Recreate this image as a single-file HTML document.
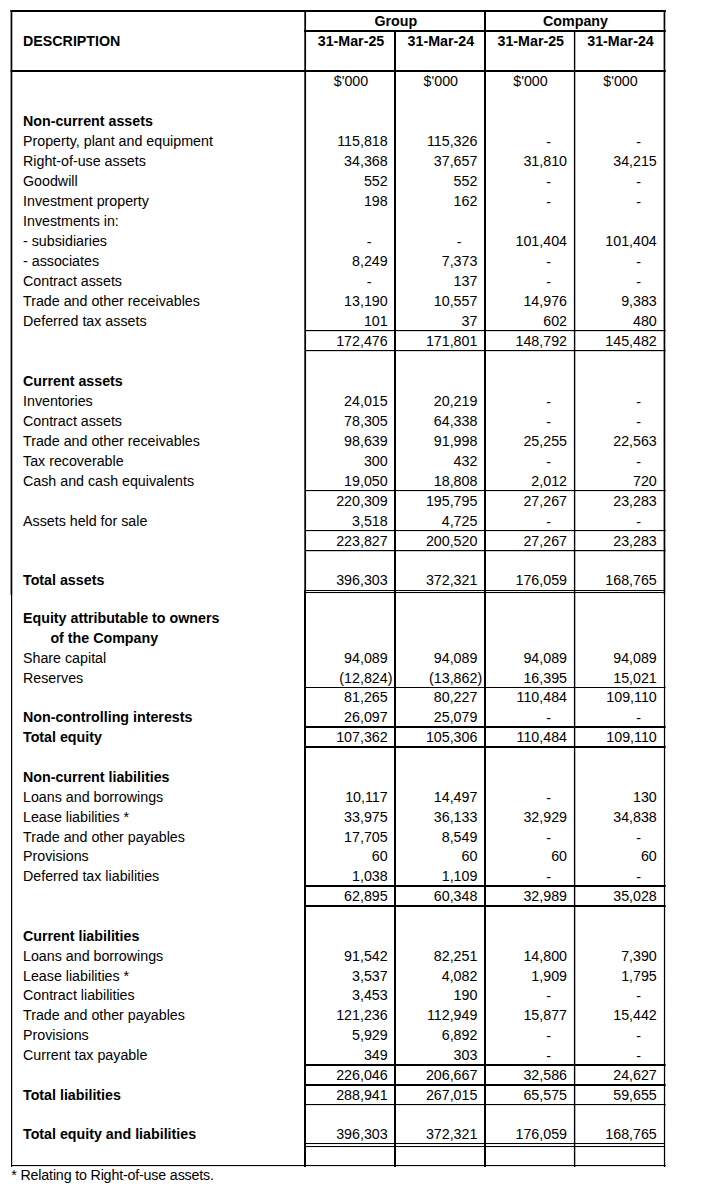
<!DOCTYPE html>
<html><head><meta charset="utf-8"><title>Statement of financial position</title>
<style>
html,body{margin:0;padding:0;background:#fff;}
body{width:720px;height:1190px;position:relative;overflow:hidden;font-family:"Liberation Sans",sans-serif;font-size:14.25px;color:#000;}
.t{position:absolute;white-space:nowrap;height:20px;line-height:20px;}
.b{font-weight:bold;font-size:14.25px;}
.r{text-align:right;}
.c{text-align:center;}
.l{position:absolute;background:#000;}
</style></head><body>

<svg width="720" height="1190" style="position:absolute;left:0;top:0" fill="#000"><rect x="10.6" y="10" width="1.7" height="585"/><rect x="11" y="595" width="1.2" height="572"/><rect x="304.3" y="10" width="1.75" height="580"/><rect x="304" y="590" width="2" height="577"/><rect x="394" y="30" width="2" height="1137"/><rect x="484" y="10" width="2" height="1157"/><rect x="573.9" y="30" width="1.4" height="1137"/><rect x="663.6" y="10" width="1.7" height="584"/><rect x="663.9" y="594" width="1.25" height="573"/><rect x="10.4" y="10" width="655.4" height="2"/><rect x="304" y="30" width="361.8" height="2"/><rect x="10.6" y="70" width="655.2" height="2"/><rect x="11" y="1165" width="654.8" height="1.1"/><rect x="305" y="330" width="360.6" height="1.15"/><rect x="305" y="350" width="360.6" height="1.15"/><rect x="305" y="490" width="360.6" height="1.1"/><rect x="305" y="530" width="360.6" height="1.1"/><rect x="305" y="550" width="360.6" height="1.2"/><rect x="305" y="590" width="360.0" height="1.05"/><rect x="305" y="592" width="360.0" height="1.05"/><rect x="305" y="687" width="360.6" height="1"/><rect x="305" y="726" width="360.6" height="2"/><rect x="305" y="746" width="360.6" height="2"/><rect x="305" y="885" width="360.6" height="2"/><rect x="305" y="905" width="360.6" height="2"/><rect x="305" y="1064" width="360.6" height="2"/><rect x="305" y="1084" width="360.6" height="2"/><rect x="305" y="1104" width="360.6" height="1.1"/><rect x="305" y="1143" width="360.0" height="1.05"/><rect x="305" y="1146" width="360.0" height="1.05"/></svg>
<div class="t b c" style="left:305.8px;top:11.0px;width:180px;">Group</div>
<div class="t b c" style="left:486px;top:11.0px;width:179px;">Company</div>
<div class="t b" style="left:23px;top:31.0px;width:200px;">DESCRIPTION</div>
<div class="t b c" style="left:306px;top:31.0px;width:90px;">31-Mar-25</div>
<div class="t b c" style="left:395.9px;top:31.0px;width:90px;">31-Mar-24</div>
<div class="t b c" style="left:485.79999999999995px;top:31.0px;width:90px;">31-Mar-25</div>
<div class="t b c" style="left:575.5px;top:31.0px;width:90px;">31-Mar-24</div>
<div class="t c" style="left:306px;top:71.0px;width:90px;">$'000</div>
<div class="t c" style="left:395.8px;top:71.0px;width:90px;">$'000</div>
<div class="t c" style="left:485.5px;top:71.0px;width:90px;">$'000</div>
<div class="t c" style="left:575.5px;top:71.0px;width:90px;">$'000</div>
<div class="t b" style="left:23.0px;top:111.0px;width:280px;">Non-current assets</div>
<div class="t " style="left:23.0px;top:131.0px;width:280px;">Property, plant and equipment</div>
<div class="t r" style="left:307.7px;top:131.0px;width:80px;">115,818</div>
<div class="t r" style="left:397.4px;top:131.0px;width:80px;">115,326</div>
<div class="t c" style="left:538.7px;top:131.8px;width:20px;">-</div>
<div class="t c" style="left:628.7px;top:131.8px;width:20px;">-</div>
<div class="t " style="left:23.0px;top:151.0px;width:280px;">Right-of-use assets</div>
<div class="t r" style="left:307.7px;top:151.0px;width:80px;">34,368</div>
<div class="t r" style="left:397.4px;top:151.0px;width:80px;">37,657</div>
<div class="t r" style="left:487px;top:151.0px;width:80px;">31,810</div>
<div class="t r" style="left:576.8px;top:151.0px;width:80px;">34,215</div>
<div class="t " style="left:23.0px;top:171.0px;width:280px;">Goodwill</div>
<div class="t r" style="left:307.7px;top:171.0px;width:80px;">552</div>
<div class="t r" style="left:397.4px;top:171.0px;width:80px;">552</div>
<div class="t c" style="left:538.7px;top:171.8px;width:20px;">-</div>
<div class="t c" style="left:628.7px;top:171.8px;width:20px;">-</div>
<div class="t " style="left:23.0px;top:191.0px;width:280px;">Investment property</div>
<div class="t r" style="left:307.7px;top:191.0px;width:80px;">198</div>
<div class="t r" style="left:397.4px;top:191.0px;width:80px;">162</div>
<div class="t c" style="left:538.7px;top:191.8px;width:20px;">-</div>
<div class="t c" style="left:628.7px;top:191.8px;width:20px;">-</div>
<div class="t " style="left:23.0px;top:211.0px;width:280px;">Investments in:</div>
<div class="t " style="left:23.0px;top:231.0px;width:280px;">- subsidiaries</div>
<div class="t c" style="left:359.2px;top:231.8px;width:20px;">-</div>
<div class="t c" style="left:449.2px;top:231.8px;width:20px;">-</div>
<div class="t r" style="left:487px;top:231.0px;width:80px;">101,404</div>
<div class="t r" style="left:576.8px;top:231.0px;width:80px;">101,404</div>
<div class="t " style="left:23.0px;top:251.0px;width:280px;">- associates</div>
<div class="t r" style="left:307.7px;top:251.0px;width:80px;">8,249</div>
<div class="t r" style="left:397.4px;top:251.0px;width:80px;">7,373</div>
<div class="t c" style="left:538.7px;top:251.8px;width:20px;">-</div>
<div class="t c" style="left:628.7px;top:251.8px;width:20px;">-</div>
<div class="t " style="left:23.0px;top:271.0px;width:280px;">Contract assets</div>
<div class="t c" style="left:359.2px;top:271.8px;width:20px;">-</div>
<div class="t r" style="left:397.4px;top:271.0px;width:80px;">137</div>
<div class="t c" style="left:538.7px;top:271.8px;width:20px;">-</div>
<div class="t c" style="left:628.7px;top:271.8px;width:20px;">-</div>
<div class="t " style="left:23.0px;top:291.0px;width:280px;">Trade and other receivables</div>
<div class="t r" style="left:307.7px;top:291.0px;width:80px;">13,190</div>
<div class="t r" style="left:397.4px;top:291.0px;width:80px;">10,557</div>
<div class="t r" style="left:487px;top:291.0px;width:80px;">14,976</div>
<div class="t r" style="left:576.8px;top:291.0px;width:80px;">9,383</div>
<div class="t " style="left:23.0px;top:311.0px;width:280px;">Deferred tax assets</div>
<div class="t r" style="left:307.7px;top:311.0px;width:80px;">101</div>
<div class="t r" style="left:397.4px;top:311.0px;width:80px;">37</div>
<div class="t r" style="left:487px;top:311.0px;width:80px;">602</div>
<div class="t r" style="left:576.8px;top:311.0px;width:80px;">480</div>
<div class="t r" style="left:307.7px;top:331.0px;width:80px;">172,476</div>
<div class="t r" style="left:397.4px;top:331.0px;width:80px;">171,801</div>
<div class="t r" style="left:487px;top:331.0px;width:80px;">148,792</div>
<div class="t r" style="left:576.8px;top:331.0px;width:80px;">145,482</div>
<div class="t b" style="left:23.0px;top:371.0px;width:280px;">Current assets</div>
<div class="t " style="left:23.0px;top:391.0px;width:280px;">Inventories</div>
<div class="t r" style="left:307.7px;top:391.0px;width:80px;">24,015</div>
<div class="t r" style="left:397.4px;top:391.0px;width:80px;">20,219</div>
<div class="t c" style="left:538.7px;top:391.8px;width:20px;">-</div>
<div class="t c" style="left:628.7px;top:391.8px;width:20px;">-</div>
<div class="t " style="left:23.0px;top:411.0px;width:280px;">Contract assets</div>
<div class="t r" style="left:307.7px;top:411.0px;width:80px;">78,305</div>
<div class="t r" style="left:397.4px;top:411.0px;width:80px;">64,338</div>
<div class="t c" style="left:538.7px;top:411.8px;width:20px;">-</div>
<div class="t c" style="left:628.7px;top:411.8px;width:20px;">-</div>
<div class="t " style="left:23.0px;top:431.0px;width:280px;">Trade and other receivables</div>
<div class="t r" style="left:307.7px;top:431.0px;width:80px;">98,639</div>
<div class="t r" style="left:397.4px;top:431.0px;width:80px;">91,998</div>
<div class="t r" style="left:487px;top:431.0px;width:80px;">25,255</div>
<div class="t r" style="left:576.8px;top:431.0px;width:80px;">22,563</div>
<div class="t " style="left:23.0px;top:451.0px;width:280px;">Tax recoverable</div>
<div class="t r" style="left:307.7px;top:451.0px;width:80px;">300</div>
<div class="t r" style="left:397.4px;top:451.0px;width:80px;">432</div>
<div class="t c" style="left:538.7px;top:451.8px;width:20px;">-</div>
<div class="t c" style="left:628.7px;top:451.8px;width:20px;">-</div>
<div class="t " style="left:23.0px;top:471.0px;width:280px;">Cash and cash equivalents</div>
<div class="t r" style="left:307.7px;top:471.0px;width:80px;">19,050</div>
<div class="t r" style="left:397.4px;top:471.0px;width:80px;">18,808</div>
<div class="t r" style="left:487px;top:471.0px;width:80px;">2,012</div>
<div class="t r" style="left:576.8px;top:471.0px;width:80px;">720</div>
<div class="t r" style="left:307.7px;top:491.0px;width:80px;">220,309</div>
<div class="t r" style="left:397.4px;top:491.0px;width:80px;">195,795</div>
<div class="t r" style="left:487px;top:491.0px;width:80px;">27,267</div>
<div class="t r" style="left:576.8px;top:491.0px;width:80px;">23,283</div>
<div class="t " style="left:23.0px;top:511.0px;width:280px;">Assets held for sale</div>
<div class="t r" style="left:307.7px;top:511.0px;width:80px;">3,518</div>
<div class="t r" style="left:397.4px;top:511.0px;width:80px;">4,725</div>
<div class="t c" style="left:538.7px;top:511.79999999999995px;width:20px;">-</div>
<div class="t c" style="left:628.7px;top:511.79999999999995px;width:20px;">-</div>
<div class="t r" style="left:307.7px;top:531.0px;width:80px;">223,827</div>
<div class="t r" style="left:397.4px;top:531.0px;width:80px;">200,520</div>
<div class="t r" style="left:487px;top:531.0px;width:80px;">27,267</div>
<div class="t r" style="left:576.8px;top:531.0px;width:80px;">23,283</div>
<div class="t b" style="left:23.0px;top:570.0px;width:280px;">Total assets</div>
<div class="t r" style="left:307.7px;top:570.0px;width:80px;">396,303</div>
<div class="t r" style="left:397.4px;top:570.0px;width:80px;">372,321</div>
<div class="t r" style="left:487px;top:570.0px;width:80px;">176,059</div>
<div class="t r" style="left:576.8px;top:570.0px;width:80px;">168,765</div>
<div class="t b" style="left:23.0px;top:608.0px;width:280px;">Equity attributable to owners</div>
<div class="t b" style="left:50.4px;top:628.0px;width:280px;">of the Company</div>
<div class="t " style="left:23.0px;top:648.0px;width:280px;">Share capital</div>
<div class="t r" style="left:307.7px;top:648.0px;width:80px;">94,089</div>
<div class="t r" style="left:397.4px;top:648.0px;width:80px;">94,089</div>
<div class="t r" style="left:487px;top:648.0px;width:80px;">94,089</div>
<div class="t r" style="left:576.8px;top:648.0px;width:80px;">94,089</div>
<div class="t " style="left:23.0px;top:668.0px;width:280px;">Reserves</div>
<div class="t r" style="left:312.44525px;top:668.0px;width:80px;">(12,824)</div>
<div class="t r" style="left:402.14525px;top:668.0px;width:80px;">(13,862)</div>
<div class="t r" style="left:487px;top:668.0px;width:80px;">16,395</div>
<div class="t r" style="left:576.8px;top:668.0px;width:80px;">15,021</div>
<div class="t r" style="left:307.7px;top:687.0px;width:80px;">81,265</div>
<div class="t r" style="left:397.4px;top:687.0px;width:80px;">80,227</div>
<div class="t r" style="left:487px;top:687.0px;width:80px;">110,484</div>
<div class="t r" style="left:576.8px;top:687.0px;width:80px;">109,110</div>
<div class="t b" style="left:23.0px;top:707.0px;width:280px;">Non-controlling interests</div>
<div class="t r" style="left:307.7px;top:707.0px;width:80px;">26,097</div>
<div class="t r" style="left:397.4px;top:707.0px;width:80px;">25,079</div>
<div class="t c" style="left:538.7px;top:707.8px;width:20px;">-</div>
<div class="t c" style="left:628.7px;top:707.8px;width:20px;">-</div>
<div class="t b" style="left:23.0px;top:727.0px;width:280px;">Total equity</div>
<div class="t r" style="left:307.7px;top:727.0px;width:80px;">107,362</div>
<div class="t r" style="left:397.4px;top:727.0px;width:80px;">105,306</div>
<div class="t r" style="left:487px;top:727.0px;width:80px;">110,484</div>
<div class="t r" style="left:576.8px;top:727.0px;width:80px;">109,110</div>
<div class="t b" style="left:23.0px;top:767.0px;width:280px;">Non-current liabilities</div>
<div class="t " style="left:23.0px;top:787.0px;width:280px;">Loans and borrowings</div>
<div class="t r" style="left:307.7px;top:787.0px;width:80px;">10,117</div>
<div class="t r" style="left:397.4px;top:787.0px;width:80px;">14,497</div>
<div class="t c" style="left:538.7px;top:787.8px;width:20px;">-</div>
<div class="t r" style="left:576.8px;top:787.0px;width:80px;">130</div>
<div class="t " style="left:23.0px;top:807.0px;width:280px;">Lease liabilities *</div>
<div class="t r" style="left:307.7px;top:807.0px;width:80px;">33,975</div>
<div class="t r" style="left:397.4px;top:807.0px;width:80px;">36,133</div>
<div class="t r" style="left:487px;top:807.0px;width:80px;">32,929</div>
<div class="t r" style="left:576.8px;top:807.0px;width:80px;">34,838</div>
<div class="t " style="left:23.0px;top:827.0px;width:280px;">Trade and other payables</div>
<div class="t r" style="left:307.7px;top:827.0px;width:80px;">17,705</div>
<div class="t r" style="left:397.4px;top:827.0px;width:80px;">8,549</div>
<div class="t c" style="left:538.7px;top:827.8px;width:20px;">-</div>
<div class="t c" style="left:628.7px;top:827.8px;width:20px;">-</div>
<div class="t " style="left:23.0px;top:846.0px;width:280px;">Provisions</div>
<div class="t r" style="left:307.7px;top:846.0px;width:80px;">60</div>
<div class="t r" style="left:397.4px;top:846.0px;width:80px;">60</div>
<div class="t r" style="left:487px;top:846.0px;width:80px;">60</div>
<div class="t r" style="left:576.8px;top:846.0px;width:80px;">60</div>
<div class="t " style="left:23.0px;top:866.0px;width:280px;">Deferred tax liabilities</div>
<div class="t r" style="left:307.7px;top:866.0px;width:80px;">1,038</div>
<div class="t r" style="left:397.4px;top:866.0px;width:80px;">1,109</div>
<div class="t c" style="left:538.7px;top:866.8px;width:20px;">-</div>
<div class="t c" style="left:628.7px;top:866.8px;width:20px;">-</div>
<div class="t r" style="left:307.7px;top:886.0px;width:80px;">62,895</div>
<div class="t r" style="left:397.4px;top:886.0px;width:80px;">60,348</div>
<div class="t r" style="left:487px;top:886.0px;width:80px;">32,989</div>
<div class="t r" style="left:576.8px;top:886.0px;width:80px;">35,028</div>
<div class="t b" style="left:23.0px;top:926.0px;width:280px;">Current liabilities</div>
<div class="t " style="left:23.0px;top:946.0px;width:280px;">Loans and borrowings</div>
<div class="t r" style="left:307.7px;top:946.0px;width:80px;">91,542</div>
<div class="t r" style="left:397.4px;top:946.0px;width:80px;">82,251</div>
<div class="t r" style="left:487px;top:946.0px;width:80px;">14,800</div>
<div class="t r" style="left:576.8px;top:946.0px;width:80px;">7,390</div>
<div class="t " style="left:23.0px;top:966.0px;width:280px;">Lease liabilities *</div>
<div class="t r" style="left:307.7px;top:966.0px;width:80px;">3,537</div>
<div class="t r" style="left:397.4px;top:966.0px;width:80px;">4,082</div>
<div class="t r" style="left:487px;top:966.0px;width:80px;">1,909</div>
<div class="t r" style="left:576.8px;top:966.0px;width:80px;">1,795</div>
<div class="t " style="left:23.0px;top:985.0px;width:280px;">Contract liabilities</div>
<div class="t r" style="left:307.7px;top:985.0px;width:80px;">3,453</div>
<div class="t r" style="left:397.4px;top:985.0px;width:80px;">190</div>
<div class="t c" style="left:538.7px;top:985.8px;width:20px;">-</div>
<div class="t c" style="left:628.7px;top:985.8px;width:20px;">-</div>
<div class="t " style="left:23.0px;top:1005.0px;width:280px;">Trade and other payables</div>
<div class="t r" style="left:307.7px;top:1005.0px;width:80px;">121,236</div>
<div class="t r" style="left:397.4px;top:1005.0px;width:80px;">112,949</div>
<div class="t r" style="left:487px;top:1005.0px;width:80px;">15,877</div>
<div class="t r" style="left:576.8px;top:1005.0px;width:80px;">15,442</div>
<div class="t " style="left:23.0px;top:1025.0px;width:280px;">Provisions</div>
<div class="t r" style="left:307.7px;top:1025.0px;width:80px;">5,929</div>
<div class="t r" style="left:397.4px;top:1025.0px;width:80px;">6,892</div>
<div class="t c" style="left:538.7px;top:1025.8px;width:20px;">-</div>
<div class="t c" style="left:628.7px;top:1025.8px;width:20px;">-</div>
<div class="t " style="left:23.0px;top:1045.0px;width:280px;">Current tax payable</div>
<div class="t r" style="left:307.7px;top:1045.0px;width:80px;">349</div>
<div class="t r" style="left:397.4px;top:1045.0px;width:80px;">303</div>
<div class="t c" style="left:538.7px;top:1045.8px;width:20px;">-</div>
<div class="t c" style="left:628.7px;top:1045.8px;width:20px;">-</div>
<div class="t r" style="left:307.7px;top:1065.0px;width:80px;">226,046</div>
<div class="t r" style="left:397.4px;top:1065.0px;width:80px;">206,667</div>
<div class="t r" style="left:487px;top:1065.0px;width:80px;">32,586</div>
<div class="t r" style="left:576.8px;top:1065.0px;width:80px;">24,627</div>
<div class="t b" style="left:23.0px;top:1085.0px;width:280px;">Total liabilities</div>
<div class="t r" style="left:307.7px;top:1085.0px;width:80px;">288,941</div>
<div class="t r" style="left:397.4px;top:1085.0px;width:80px;">267,015</div>
<div class="t r" style="left:487px;top:1085.0px;width:80px;">65,575</div>
<div class="t r" style="left:576.8px;top:1085.0px;width:80px;">59,655</div>
<div class="t b" style="left:23.0px;top:1124.0px;width:280px;">Total equity and liabilities</div>
<div class="t r" style="left:307.7px;top:1124.0px;width:80px;">396,303</div>
<div class="t r" style="left:397.4px;top:1124.0px;width:80px;">372,321</div>
<div class="t r" style="left:487px;top:1124.0px;width:80px;">176,059</div>
<div class="t r" style="left:576.8px;top:1124.0px;width:80px;">168,765</div>
<div class="t" style="left:11.3px;top:1165px;letter-spacing:-0.17px;">* Relating to Right-of-use assets.</div>
</body></html>
